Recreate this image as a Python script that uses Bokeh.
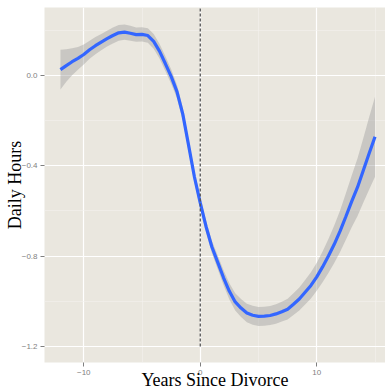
from bokeh.plotting import figure
from bokeh.models import ColumnDataSource, FixedTicker, Range1d
from bokeh.embed import file_html
from bokeh.resources import INLINE

# Smoothed trend of daily hours around the divorce year, with its confidence band
years = [-12, -11.5, -11, -10.5, -10, -9.5, -9, -8.5, -8, -7.5, -7, -6.5, -6, -5.5,
         -5, -4.5, -4, -3.5, -3, -2.5, -2, -1.5, -1, -0.5, 0, 0.5, 1, 1.5, 2, 2.5,
         3, 3.5, 4, 4.5, 5, 5.5, 6, 6.5, 7, 7.5, 8, 8.5, 9, 9.5, 10, 10.5, 11,
         11.5, 12, 12.5, 13, 13.5, 14, 14.5, 15]
hours = [0.025, 0.043, 0.060, 0.075, 0.092, 0.113, 0.131, 0.147, 0.162, 0.176, 0.188,
         0.191, 0.186, 0.180, 0.181, 0.176, 0.150, 0.107, 0.052, -0.005, -0.072,
         -0.172, -0.310, -0.450, -0.565, -0.670, -0.760, -0.828, -0.896, -0.956,
         -1.003, -1.030, -1.052, -1.062, -1.067, -1.066, -1.063, -1.056, -1.046,
         -1.035, -1.013, -0.990, -0.960, -0.930, -0.892, -0.848, -0.800, -0.748,
         -0.690, -0.625, -0.558, -0.495, -0.420, -0.345, -0.272]
band = [0.088, 0.072, 0.060, 0.050, 0.044, 0.040, 0.038, 0.036, 0.035, 0.035, 0.035,
        0.034, 0.033, 0.032, 0.032, 0.032, 0.033, 0.033, 0.033, 0.032, 0.030, 0.028,
        0.026, 0.025, 0.025, 0.026, 0.028, 0.030, 0.033, 0.036, 0.038, 0.040, 0.041,
        0.042, 0.042, 0.042, 0.042, 0.043, 0.044, 0.046, 0.048, 0.051, 0.054, 0.058,
        0.062, 0.068, 0.075, 0.083, 0.092, 0.103, 0.115, 0.128, 0.143, 0.160, 0.177]

x_ticks = [-10, 0, 10]
x_minor = [-5, 5, 15]
y_ticks = [0.0, -0.4, -0.8, -1.2]
y_minor = [0.2, -0.2, -0.6, -1.0]

divorce_year = 0
divorce_line_bottom = -1.2
divorce_line_top = 0.35

src = ColumnDataSource(dict(
    x=years, y=hours,
    lower=[h - b for h, b in zip(hours, band)],
    upper=[h + b for h, b in zip(hours, band)],
))

p = figure(width=385, height=392, output_backend="svg", toolbar_location=None,
           x_range=Range1d(-13.37, 15.9), y_range=Range1d(-1.271, 0.30),
           min_border_left=44, min_border_right=0, min_border_top=7,
           min_border_bottom=29)

p.background_fill_color = "#EAE7DF"
p.border_fill_color = "white"
p.outline_line_color = None

# grid
for g in (p.xgrid[0], p.ygrid[0]):
    g.grid_line_color = "white"
    g.grid_line_width = 1.2
    g.minor_grid_line_color = "#F4F2EE"
    g.minor_grid_line_width = 0.6

p.xaxis.ticker = FixedTicker(ticks=x_ticks, minor_ticks=x_minor)
p.yaxis.ticker = FixedTicker(ticks=y_ticks, minor_ticks=y_minor)
p.xaxis.major_label_overrides = {t: f"{t}".replace("-", "\u2212") for t in x_ticks}
p.yaxis.major_label_overrides = {t: f"{t:.1f}".replace("-", "\u2212") for t in y_ticks}

for ax in (p.xaxis[0], p.yaxis[0]):
    ax.axis_line_color = None
    ax.major_tick_line_color = "#7F7F7F"
    ax.major_tick_in = 0
    ax.major_tick_out = 4
    ax.minor_tick_in = 0
    ax.minor_tick_out = 0
    ax.major_label_text_color = "#7F7F7F"
    ax.major_label_text_font = "Liberation Sans"
    ax.major_label_text_font_size = "8px"
    ax.major_label_standoff = 3
    ax.axis_label_text_font = "Liberation Serif"
    ax.axis_label_text_font_size = "18px"
    ax.axis_label_text_font_style = "normal"
    ax.axis_label_text_color = "black"

p.xaxis.axis_label = "Years Since Divorce"
p.yaxis.axis_label = "Daily Hours"
p.xaxis.axis_label_standoff = -8
p.yaxis.axis_label_standoff = -6

p.varea(x="x", y1="lower", y2="upper", source=src, fill_color="#999999",
        fill_alpha=0.4)
p.line(x="x", y="y", source=src, line_color="#3366FF", line_width=3.2)

p.segment(x0=[divorce_year], y0=[divorce_line_bottom], x1=[divorce_year],
          y1=[divorce_line_top], line_color="#555555", line_width=1.3,
          line_dash="3 2")

open("out.html", "w").write(file_html(p, INLINE))
